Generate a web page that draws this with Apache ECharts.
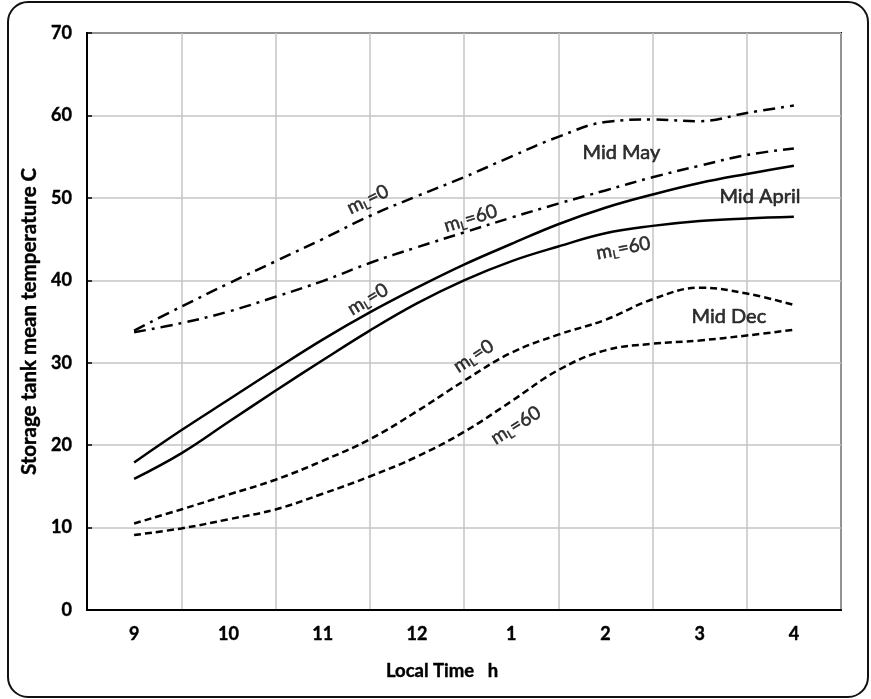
<!DOCTYPE html>
<html>
<head>
<meta charset="utf-8">
<script src="https://cdn.jsdelivr.net/npm/echarts@6/dist/echarts.min.js"></script>
<style>
  html, body { margin: 0; padding: 0; background: #fff; }
  #chart { width: 871px; height: 699px; }
</style>
</head>
<body>
<div id="chart"></div>
<script>
// Hour labels shown on the time axis (one per band)
const timeLabels = ['9', '10', '11', '12', '1', '2', '3', '4'];

// Sample times in hours (9 am .. 4 pm, every half hour)
const hours = [9, 9.5, 10, 10.5, 11, 11.5, 12, 12.5, 13, 13.5, 14, 14.5, 15, 15.5, 16];

// Storage tank mean temperature, deg C
const mayLoad0  = [33.9, 36.8, 39.6, 42.3, 45.0, 47.8, 50.2, 52.5, 55.0, 57.4, 59.2, 59.5, 59.3, 60.3, 61.2];
const mayLoad60 = [33.7, 34.8, 36.2, 38.0, 39.9, 42.1, 44.0, 45.8, 47.6, 49.3, 50.9, 52.5, 53.9, 55.2, 56.0];
const aprLoad0  = [17.9, 21.8, 25.5, 29.2, 32.8, 36.1, 39.1, 41.9, 44.4, 46.8, 48.8, 50.4, 51.8, 52.9, 53.9];
const aprLoad60 = [15.9, 19.0, 22.8, 26.6, 30.3, 33.9, 37.2, 40.0, 42.3, 44.1, 45.7, 46.6, 47.2, 47.5, 47.7];
const decLoad0  = [10.5, 12.2, 14.0, 15.8, 18.1, 20.7, 24.1, 27.8, 31.2, 33.4, 35.2, 37.7, 39.1, 38.4, 37.0];
const decLoad60 = [9.1, 9.9, 11.0, 12.2, 14.1, 16.2, 18.6, 21.6, 25.3, 29.1, 31.5, 32.3, 32.7, 33.3, 34.0];

// Curve annotations: [hour, temperature, rotation in degrees, load value]
const loadNotes = [
  [11.48, 49.8, 26, '0'],
  [12.57, 47.5, 17, '60'],
  [11.48, 37.7, 31, '0'],
  [14.19, 43.9, 11, '60'],
  [12.60, 30.8, 33, '0'],
  [13.05, 22.4, 32, '60']
];
// Season names: [hour, temperature, text]
const monthNotes = [
  [14.17, 55.5, 'Mid May'],
  [15.64, 50.1, 'Mid April'],
  [15.31, 35.6, 'Mid Dec']
];

const FONT = 'Lato, "Open Sans", "Noto Sans", sans-serif';
const DASH_DOT = [12, 6, 3, 6];
const DASHED = [7, 4];

function pairs(values) {
  return hours.map((h, i) => [h, values[i]]);
}

function curve(name, values, dash) {
  return {
    name: name,
    type: 'line',
    xAxisIndex: 1,
    data: pairs(values),
    smooth: 0.4,
    showSymbol: false,
    symbol: 'none',
    silent: true,
    z: 3,
    lineStyle: { color: '#000', width: 2.5, type: dash, cap: 'butt' }
  };
}

const chart = echarts.init(document.getElementById('chart'), null, { renderer: 'canvas' });

const tickFont = {
  color: '#000', fontFamily: FONT, fontWeight: 'bold', fontSize: 18,
  textBorderColor: '#000', textBorderWidth: 0.4
};

chart.setOption({
  backgroundColor: '#fff',
  animation: false,
  graphic: [{
    type: 'rect',
    shape: { x: 8, y: 2, width: 860, height: 695, r: 20 },
    style: { fill: 'none', stroke: '#111', lineWidth: 2 },
    silent: true,
    z: 0
  }],
  grid: {
    left: 87, top: 33, right: 30, bottom: 89,
    show: true, borderColor: '#000', borderWidth: 2
  },
  xAxis: [{
    type: 'category',
    data: timeLabels,
    boundaryGap: true,
    axisLine: { lineStyle: { color: '#000', width: 2 } },
    axisTick: { inside: true, length: 5, lineStyle: { color: '#000', width: 1.5 } },
    axisLabel: Object.assign({ margin: 15 }, tickFont),
    splitLine: { show: true, lineStyle: { color: '#c4c4c4', width: 1.5 } },
    name: 'Local Time   h',
    nameLocation: 'middle',
    nameGap: 52,
    nameTextStyle: {
      color: '#000', fontFamily: FONT, fontWeight: 'bold', fontSize: 18.5,
      textBorderColor: '#000', textBorderWidth: 0.4, padding: [0, 44, 0, 0]
    }
  }, {
    type: 'value',
    min: 8.5,
    max: 16.5,
    show: false
  }],
  yAxis: {
    type: 'value',
    min: 0,
    max: 70,
    interval: 10,
    axisLine: { show: true, lineStyle: { color: '#000', width: 2 } },
    axisTick: { show: true, inside: true, length: 5, lineStyle: { color: '#000', width: 1.5 } },
    axisLabel: Object.assign({ margin: 15 }, tickFont),
    splitLine: { show: true, lineStyle: { color: '#c4c4c4', width: 1.5 } },
    name: 'Storage tank mean temperature C',
    nameLocation: 'middle',
    nameRotate: 90,
    nameGap: 44,
    nameTextStyle: {
      color: '#000', fontFamily: FONT, fontWeight: 'bold', fontSize: 20.5,
      textBorderColor: '#000', textBorderWidth: 0.4
    }
  },
  series: [
    curve('Mid May, mL=0', mayLoad0, DASH_DOT),
    curve('Mid May, mL=60', mayLoad60, DASH_DOT),
    curve('Mid April, mL=0', aprLoad0, 'solid'),
    curve('Mid April, mL=60', aprLoad60, 'solid'),
    curve('Mid Dec, mL=0', decLoad0, DASHED),
    curve('Mid Dec, mL=60', decLoad60, DASHED),
    {
      name: 'load labels',
      type: 'scatter',
      xAxisIndex: 1,
      symbolSize: 1,
      silent: true,
      z: 4,
      itemStyle: { color: 'rgba(0,0,0,0)' },
      data: loadNotes.map(n => ({
        value: [n[0], n[1]],
        label: {
          show: true,
          position: 'inside',
          rotate: n[2],
          formatter: '{m|m}{s|L}{m|=' + n[3] + '}',
          rich: {
            m: { fontFamily: FONT, fontSize: 19, color: '#000', lineHeight: 22,
                 textBorderColor: '#000', textBorderWidth: 0.5 },
            s: { fontFamily: FONT, fontSize: 12, color: '#000', lineHeight: 9, verticalAlign: 'bottom',
                 textBorderColor: '#000', textBorderWidth: 0.4 }
          }
        }
      }))
    },
    {
      name: 'season labels',
      type: 'scatter',
      xAxisIndex: 1,
      symbolSize: 1,
      silent: true,
      z: 4,
      itemStyle: { color: 'rgba(0,0,0,0)' },
      data: monthNotes.map(n => ({
        value: [n[0], n[1]],
        label: {
          show: true,
          position: 'inside',
          formatter: n[2],
          fontFamily: FONT,
          fontSize: 20,
          color: '#000',
          textBorderColor: '#000',
          textBorderWidth: 0.6
        }
      }))
    }
  ]
});
</script>
</body>
</html>
